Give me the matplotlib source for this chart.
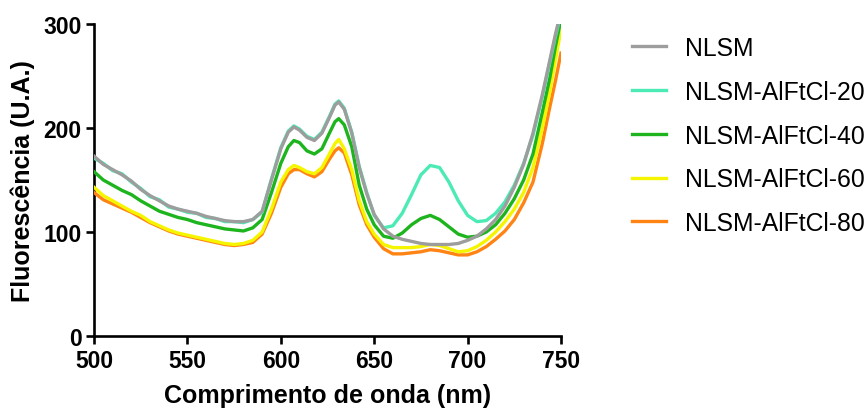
import matplotlib
matplotlib.use("Agg")
import matplotlib.pyplot as plt

plt.rcParams['font.family'] = ['Liberation Sans', 'DejaVu Sans']

# comprimento de onda (nm)
wl = [500, 505, 510, 515, 520, 525, 530, 535, 540, 545, 550, 555, 560, 565, 570, 575,
      580, 585, 590, 595, 600, 604, 607, 610, 614, 618, 622, 626, 629, 631, 634, 638,
      642, 646, 650, 655, 660, 665, 670, 675, 680, 685, 690, 695, 700, 705, 710, 715,
      720, 725, 730, 735, 740, 744, 747, 750]

nlsm = [173, 165, 160, 155, 149, 141, 135, 130, 125, 122, 120, 118, 115, 113, 111, 110,
        110, 112, 120, 150, 180, 196, 201, 198, 191, 188, 195, 210, 222, 225, 218, 195,
        162, 137, 117, 103, 96, 93, 91, 89, 88, 88, 88, 89, 92, 96, 103, 112,
        125, 143, 165, 195, 232, 265, 290, 312]

nlsm20 = [171, 166, 159, 156, 148, 142, 134, 131, 124, 122, 119, 118, 114, 113, 110, 110,
          109, 112, 119, 151, 181, 197, 202, 199, 192, 189, 196, 211, 223, 226, 219, 196,
          163, 138, 116, 104, 106, 118, 136, 155, 164, 162, 148, 130, 116, 110, 111, 118,
          129, 145, 166, 193, 230, 263, 288, 310]

nlsm40 = [158, 150, 145, 140, 136, 130, 125, 120, 117, 114, 112, 109, 107, 105, 103, 102,
          101, 104, 112, 138, 166, 182, 188, 186, 178, 175, 180, 195, 206, 209, 203, 182,
          145, 122, 107, 96, 94, 99, 107, 113, 116, 112, 105, 98, 95, 96, 100, 107,
          118, 132, 150, 175, 215, 248, 278, 305]

nlsm60 = [143, 135, 130, 125, 120, 116, 110, 106, 102, 99, 97, 95, 93, 91, 89, 88,
          89, 92, 100, 122, 148, 160, 164, 162, 158, 156, 162, 175, 185, 189, 180, 160,
          130, 110, 98, 88, 85, 85, 85, 86, 88, 87, 84, 81, 82, 86, 92, 100,
          110, 122, 138, 162, 200, 235, 265, 295]

nlsm80 = [138, 131, 127, 123, 119, 114, 109, 105, 101, 98, 96, 94, 92, 90, 88, 87,
          88, 90, 98, 118, 143, 156, 160, 160, 156, 153, 158, 170, 178, 181, 176, 155,
          126, 107, 95, 84, 79, 79, 80, 81, 83, 82, 80, 78, 78, 81, 86, 93,
          101, 112, 128, 148, 185, 220, 245, 272]

labels = ['NLSM', 'NLSM-AlFtCl-20', 'NLSM-AlFtCl-40', 'NLSM-AlFtCl-60', 'NLSM-AlFtCl-80']
series = [nlsm, nlsm20, nlsm40, nlsm60, nlsm80]
cores = ['#9d9d9d', '#4ceab4', '#1eb41e', '#f5f500', '#ff8414']

fig = plt.figure(figsize=(8.68, 4.10), dpi=100)
ax = fig.add_axes([0.1083, 0.178, 0.538, 0.761])

for i in range(len(series)):
    ax.plot(wl, series[i], color=cores[i], linewidth=2.4, label=labels[i],
            zorder=10 - i, clip_on=True)

ax.set_xlim(500, 750)
ax.set_ylim(0, 300)
ax.set_xticks([500, 550, 600, 650, 700, 750])
ax.set_yticks([0, 100, 200, 300])

for s in ['top', 'right']:
    ax.spines[s].set_visible(False)
for s in ['left', 'bottom']:
    ax.spines[s].set_linewidth(1.9)

ax.tick_params(width=1.9, length=6, labelsize=16.5, pad=3)
for t in ax.get_xticklabels() + ax.get_yticklabels():
    t.set_fontweight('bold')

ax.set_xlabel('Comprimento de onda (nm)', fontsize=18, fontweight='bold', labelpad=8)
ax.set_ylabel('Fluorescência (U.A.)', fontsize=18, fontweight='bold', labelpad=6)

fig.legend(loc='upper left', bbox_to_anchor=(0.703, 0.964), frameon=False,
           fontsize=17.8, handlelength=1.34, handletextpad=0.8, labelspacing=0.8)

fig.savefig('out.png', dpi=100)
